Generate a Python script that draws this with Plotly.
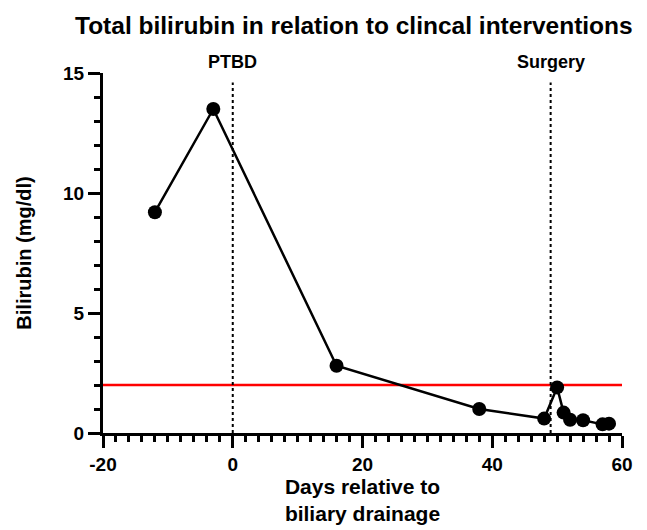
import plotly.graph_objects as go

days = [-12, -3, 16, 38, 48, 50, 51, 52, 54, 57, 58]
bilirubin = [9.2, 13.5, 2.8, 1.0, 0.6, 1.9, 0.85, 0.55, 0.53, 0.36, 0.39]
intervention_days = [0, 49]
intervention_labels = ["PTBD", "Surgery"]
intervention_line_top = 14.6
label_y = 15.45
threshold = 2
x_range = [-20, 60]
y_range = [0, 15]
x_tickvals = [-20, 0, 20, 40, 60]
x_ticktext = ["-20", "0", "20", "40", "60"]
y_tickvals = [0, 5, 10, 15]
y_ticktext = ["0", "5", "10", "15"]

FONT = "Liberation Sans, Arial, sans-serif"

fig = go.Figure()

# threshold line
fig.add_trace(go.Scatter(x=x_range, y=[threshold, threshold], mode="lines",
                         line=dict(color="#ff0000", width=2.5),
                         hoverinfo="skip", showlegend=False, cliponaxis=False))

# intervention lines
for d in intervention_days:
    fig.add_trace(go.Scatter(x=[d, d], y=[y_range[0], intervention_line_top], mode="lines",
                             line=dict(color="black", width=2, dash="dot"),
                             hoverinfo="skip", showlegend=False))

fig.add_trace(go.Scatter(x=days, y=bilirubin, mode="lines+markers",
                         line=dict(color="black", width=2.5),
                         marker=dict(color="black", size=14),
                         showlegend=False, cliponaxis=False))

for d, lab in zip(intervention_days, intervention_labels):
    fig.add_annotation(x=d, y=(label_y - y_range[0]) / (y_range[1] - y_range[0]),
                       text="<b>%s</b>" % lab, showarrow=False,
                       xref="x", yref="paper", yanchor="middle",
                       font=dict(family=FONT, size=18, color="black"))

fig.update_layout(
    width=647, height=530,
    margin=dict(l=95, r=33, t=65, b=105),
    plot_bgcolor="white", paper_bgcolor="white",
    title=dict(text="<b>Total bilirubin in relation to clincal interventions</b>",
               x=67 / 647, xanchor="left", y=1 - 17 / 530, yanchor="middle",
               font=dict(family=FONT, size=24.5, color="black")),
    font=dict(family=FONT, color="black"),
)

fig.update_xaxes(range=x_range, showline=True, linecolor="black", linewidth=3,
                 showgrid=False, zeroline=False, ticks="outside", ticklen=12, tickwidth=3,
                 tickcolor="black", tickvals=x_tickvals, ticktext=x_ticktext,
                 tickfont=dict(family=FONT, size=19, color="black", weight="bold"),
                 automargin=False,
                 minor=dict(dtick=2, tick0=-20, ticks="outside", ticklen=6, tickwidth=2.5, tickcolor="black", showgrid=False),
                 title=dict(text="<b>Days relative to<br>biliary drainage</b>", standoff=0,
                            font=dict(family=FONT, size=21, color="black")))

fig.update_yaxes(range=y_range, showline=True, linecolor="black", linewidth=3,
                 showgrid=False, zeroline=False, ticks="outside", ticklen=12, tickwidth=3,
                 tickcolor="black", tickvals=y_tickvals, ticktext=y_ticktext,
                 tickfont=dict(family=FONT, size=19, color="black", weight="bold"),
                 automargin=False,
                 minor=dict(dtick=1, tick0=0, ticks="outside", ticklen=6, tickwidth=2.5, tickcolor="black", showgrid=False),
                 title=dict(text="<b>Bilirubin (mg/dl)</b>", standoff=27,
                            font=dict(family=FONT, size=20, color="black")))

fig.write_html("out.html")
